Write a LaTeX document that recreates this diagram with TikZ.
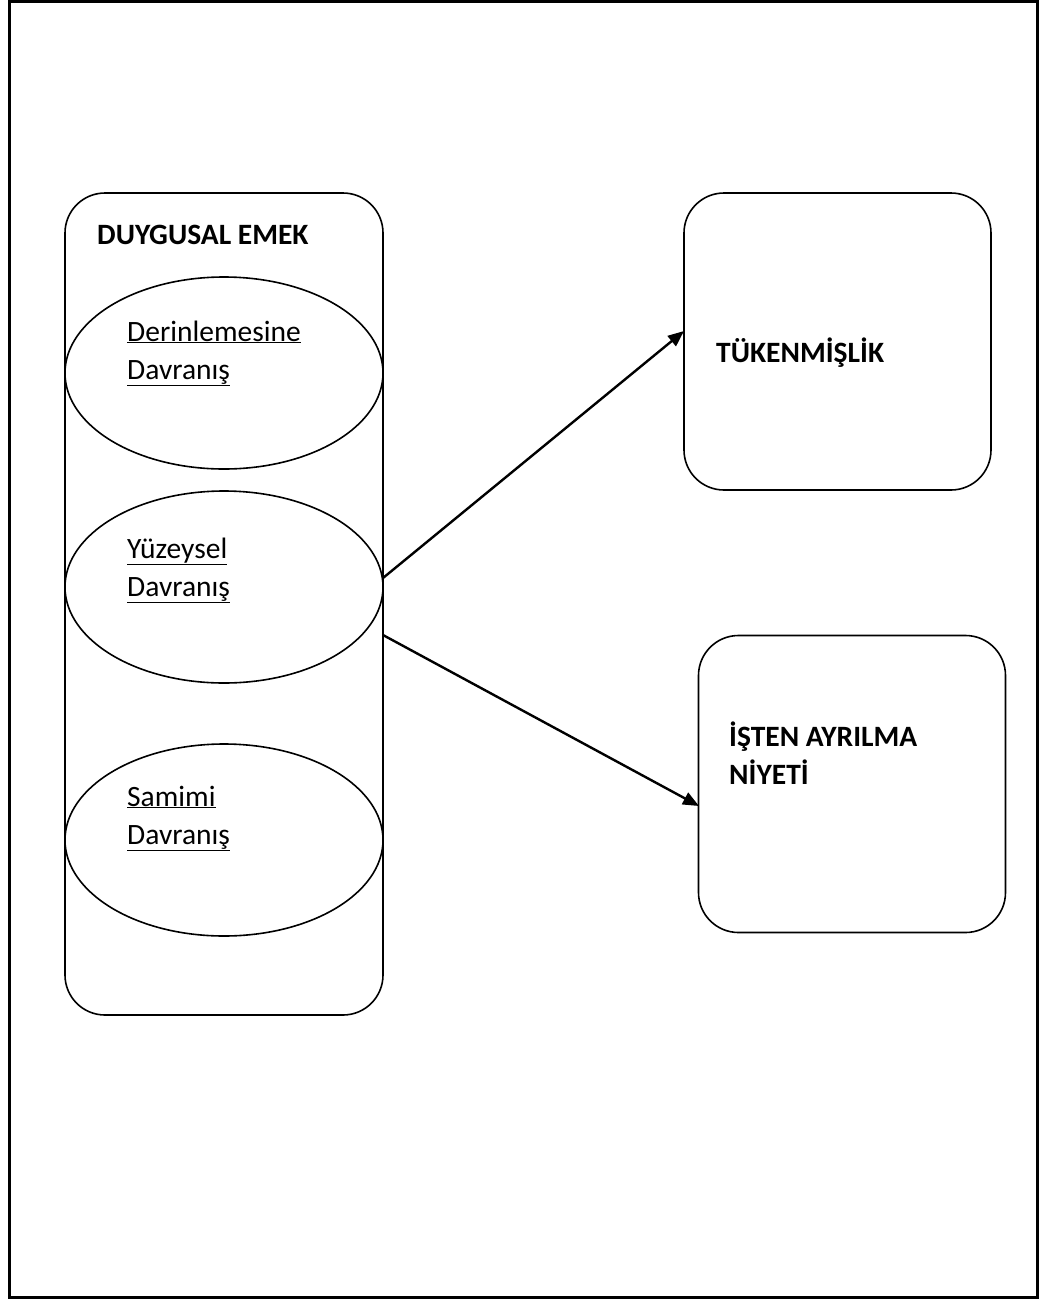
\documentclass[tikz,border=0pt]{standalone}
\usepackage{fontspec}
\setmainfont{Carlito}
\usetikzlibrary{arrows.meta,shapes.geometric}
\begin{document}
\begin{tikzpicture}[x=1pt,y=-1pt,
  shapeline/.style={draw, line width=1.6pt},
  bigbox/.style={shapeline, rounded corners=40pt, minimum width=318pt, minimum height=822pt, inner sep=0pt},
  outbox/.style={shapeline, rounded corners=40pt, minimum width=307pt, minimum height=297pt, inner sep=0pt},
  oval/.style={shapeline, ellipse, minimum width=318pt, minimum height=192pt, inner sep=0pt},
  lbl/.style={anchor=base west, inner sep=0pt, font=\fontsize{29.5}{38}\selectfont},
  blbl/.style={lbl, font=\fontsize{29.5}{38}\selectfont\bfseries},
  conn/.style={line width=2.4pt, -{Triangle[length=16pt,width=13pt]}}
]
\useasboundingbox (0,0) rectangle (1042,1299);
\draw[line width=3pt] (9,1.5) rectangle (1037,1297.5);

\node[bigbox] (emek) at (224,604) {};
\node[oval] (derin) at (224,373) {};
\node[oval] (yuzey) at (224,587) {};
\node[oval] (samimi) at (224,840) {};
\node[outbox] (tuk) at (837.5,341.5) {};
\node[outbox] (isten) at (852,784) {};

\node[blbl] (temek) at (97,244) {DUYGUSAL EMEK};
\node[lbl] (tderin) at (127,341) {\begin{tabular}[t]{@{}l@{}}\underline{Derinlemesine}\\ \underline{Davranış}\end{tabular}};
\node[lbl] (tyuzey) at (127,558) {\begin{tabular}[t]{@{}l@{}}\underline{Yüzeysel}\\ \underline{Davranış}\end{tabular}};
\node[lbl] (tsamimi) at (127,806) {\begin{tabular}[t]{@{}l@{}}\underline{Samimi}\\ \underline{Davranış}\end{tabular}};
\node[blbl] (ttuk) at (716,362) {TÜKENMİŞLİK};
\node[blbl] (tisten) at (729,746) {\begin{tabular}[t]{@{}l@{}}İŞTEN AYRILMA\\ NİYETİ\end{tabular}};

\coordinate (a1) at (383,578);
\coordinate (a2) at (383,635);
\coordinate (b1) at (684,331);
\coordinate (b2) at (699,806);
\draw[conn] (a1) -- (b1);
\draw[conn] (a2) -- (b2);
\end{tikzpicture}
\end{document}
